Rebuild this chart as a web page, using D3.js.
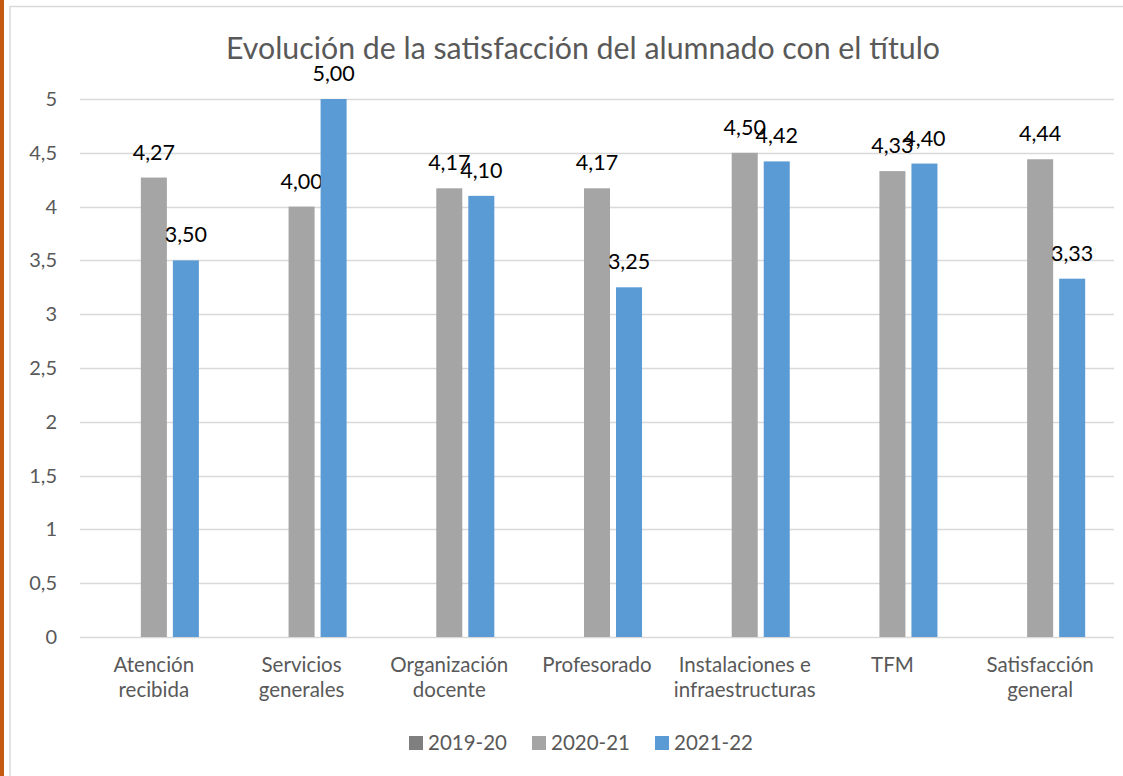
<!DOCTYPE html>
<html>
<head>
<meta charset="utf-8">
<script src="https://cdn.jsdelivr.net/npm/d3@7"></script>
<style>
  html, body { margin: 0; padding: 0; background: #fff; }
  svg { display: block; font-family: Lato, "Open Sans", sans-serif; }
</style>
</head>
<body>
<svg id="chart" width="1123" height="776"></svg>
<script>
// datos del gráfico
const categorias = [
  ["Atención", "recibida"],
  ["Servicios", "generales"],
  ["Organización", "docente"],
  ["Profesorado"],
  ["Instalaciones e", "infraestructuras"],
  ["TFM"],
  ["Satisfacción", "general"]
];
const series = ["2019-20", "2020-21", "2021-22"];
const valores2019 = [null, null, null, null, null, null, null];
const valores2020 = [4.27, 4.00, 4.17, 4.17, 4.50, 4.33, 4.44];
const valores2021 = [3.50, 5.00, 4.10, 3.25, 4.42, 4.40, 3.33];
const ticksY = [0, 0.5, 1, 1.5, 2, 2.5, 3, 3.5, 4, 4.5, 5];
const colores = ["#7f7f7f", "#a5a5a5", "#5b9bd5"];
const titulo = "Evolución de la satisfacción del alumnado con el título";

const datos = [valores2019, valores2020, valores2021];
const claves = categorias.map(c => c.join(" "));

const svg = d3.select("#chart");

// marco
svg.append("rect").attr("x", 0).attr("y", 0).attr("width", 4).attr("height", 776).attr("fill", "#c55a11");
svg.append("line").attr("x1", 10).attr("x2", 1123).attr("y1", 6.5).attr("y2", 6.5)
  .attr("stroke", "#d9d9d9").attr("stroke-width", 1.5);
svg.append("line").attr("x1", 10).attr("x2", 10).attr("y1", 6).attr("y2", 776)
  .attr("stroke", "#d9d9d9").attr("stroke-width", 1.5);

// escalas
const x = d3.scaleBand().domain(claves).range([80, 1114]);
const x1 = d3.scaleBand().domain(series).range([0, x.bandwidth()])
  .paddingInner(0.1875).paddingOuter(0.9);
const y = d3.scaleLinear().domain([0, 5]).range([637, 99]);

// rejilla
svg.append("g").selectAll("line").data(ticksY).join("line")
  .attr("x1", 80).attr("x2", 1114)
  .attr("y1", d => Math.round(y(d)) + 0.5).attr("y2", d => Math.round(y(d)) + 0.5)
  .attr("stroke", "#d9d9d9").attr("stroke-width", 1.3);

// eje Y
svg.append("g").selectAll("text").data(ticksY).join("text")
  .attr("x", 57).attr("y", d => y(d) + 7)
  .attr("text-anchor", "end")
  .attr("fill", "#595959").attr("font-size", 20)
  .text(d => String(d).replace(".", ","));

// barras
const grupos = svg.append("g").selectAll("g").data(series).join("g")
  .attr("fill", (d, i) => colores[i]);

grupos.each(function(s, i) {
  const pts = datos[i].map((v, j) => ({ cat: claves[j], v })).filter(d => d.v != null);
  const g = d3.select(this);
  g.selectAll("rect").data(pts).join("rect")
    .attr("x", d => x(d.cat) + x1(s))
    .attr("y", d => y(d.v))
    .attr("width", x1.bandwidth())
    .attr("height", d => y(0) - y(d.v));
  g.selectAll("text").data(pts).join("text")
    .attr("x", d => x(d.cat) + x1(s) + x1.bandwidth() / 2)
    .attr("y", d => y(d.v) - 18)
    .attr("text-anchor", "middle")
    .attr("fill", "#000").attr("font-size", 21.5)
    .text(d => d.v.toFixed(2).replace(".", ","));
});

// etiquetas de categoría
const etiquetas = svg.append("g").selectAll("text").data(categorias).join("text")
  .attr("x", (d, i) => x(claves[i]) + x.bandwidth() / 2)
  .attr("y", 672)
  .attr("text-anchor", "middle")
  .attr("fill", "#595959").attr("font-size", 20.5);
etiquetas.selectAll("tspan").data(d => d).join("tspan")
  .attr("x", function() { return this.parentNode.getAttribute("x"); })
  .attr("dy", (d, i) => i === 0 ? 0 : 25)
  .text(d => d);

// título
svg.append("text")
  .attr("x", 583).attr("y", 59)
  .attr("text-anchor", "middle")
  .attr("fill", "#595959").attr("font-size", 30.3)
  .text(titulo);

// leyenda
const leyendaX = [409, 532, 655];
const leyenda = svg.append("g").selectAll("g").data(series).join("g")
  .attr("transform", (d, i) => `translate(${leyendaX[i]},736)`);
leyenda.append("rect").attr("width", 14).attr("height", 14)
  .attr("fill", (d, i) => colores[i]);
leyenda.append("text").attr("x", 19).attr("y", 14)
  .attr("fill", "#595959").attr("font-size", 20.5)
  .text(d => d);
</script>
</body>
</html>
